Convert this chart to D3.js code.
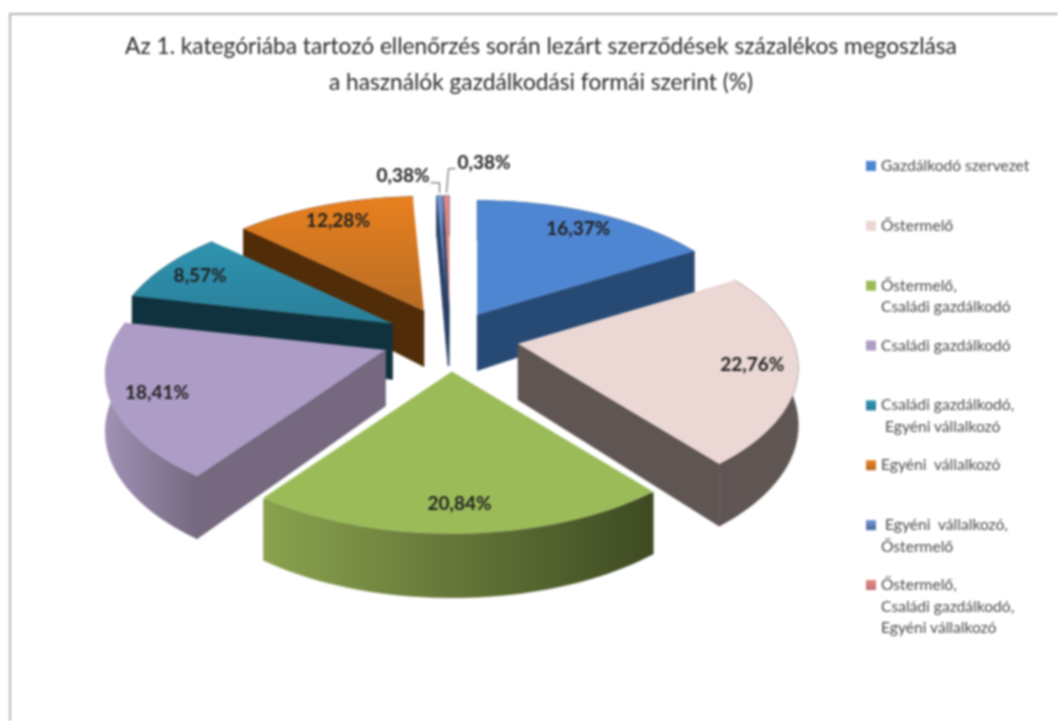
<!DOCTYPE html>
<html><head><meta charset="utf-8">
<script src="https://cdn.jsdelivr.net/npm/d3@7/dist/d3.min.js"></script>
<style>
html,body{margin:0;padding:0;background:#fff}
svg{display:block;filter:blur(0.8px)}
text{font-family:Lato,"Open Sans",sans-serif;white-space:pre}
</style></head><body>
<svg id="c" width="1058" height="721"></svg>
<script>
const titleLines = ["Az 1. kategóriába tartozó ellenőrzés során lezárt szerződések százalékos megoszlása",
                    "a használók gazdálkodási formái szerint (%)"];
const categories = ["Gazdálkodó szervezet","Őstermelő","Őstermelő, Családi gazdálkodó","Családi gazdálkodó",
  "Családi gazdálkodó, Egyéni vállalkozó","Egyéni vállalkozó","Egyéni vállalkozó, Őstermelő",
  "Őstermelő, Családi gazdálkodó, Egyéni vállalkozó"];
const legendLines = [["Gazdálkodó szervezet"],["Őstermelő"],["Őstermelő,","Családi gazdálkodó"],["Családi gazdálkodó"],
  ["Családi gazdálkodó,"," Egyéni vállalkozó"],["Egyéni  vállalkozó"],[" Egyéni  vállalkozó,","Őstermelő"],
  ["Őstermelő,","Családi gazdálkodó,","Egyéni vállalkozó"]];
const values = [16.37,22.76,20.84,18.41,8.57,12.28,0.38,0.38];
const explode = [0.2,0.25,0.25,0.25,0.235,0.225,0.21,0.21];
const topColors = ["#4f86d2","#ebd7d4","#9bbb59","#ad9cc5","#2f93b0","#e8801f","#7096d0","#e58a86"];
const topColorsEnd = ["#4f86d2","#ebd7d4","#9bbb59","#ad9cc5","#2a7f9a","#b86d25","#4a6a9a","#c07070"];
const wallLeft = ["#274a75","#5f5654","#8aa24e","#a092b6","#10323e","#512c08","#2a3f66","#2a3f66"];
const wallRight = ["#274a75","#5f5654","#3e4a22","#75687f","#10323e","#512c08","#2a3f66","#2a3f66"];
const drawOrder = [6,7,5,0,4,1,3,2];

// projection of the disc: near edge is bigger than the far edge
const cx=450, cy=338, A=276, B=134, K=0.174;
const depth = d3.scaleLinear().domain([-1,0,1]).range([64,56,40]);
const svg = d3.select("#c");
const defs = svg.append("defs");

// frame
svg.append("path").attr("d",d3.line()([[10,721],[10,14],[1058,14]]))
  .attr("fill","none").attr("stroke","#b0b0b0").attr("stroke-width",1.8);

svg.selectAll("text.title").data(titleLines).join("text").attr("class","title")
  .attr("x",541).attr("y",(d,i)=>54+i*36).attr("text-anchor","middle")
  .attr("font-size",22.7).attr("fill","#2a2a2a").text(d=>d);

const arcs = d3.pie().sort(null).value(d=>d)(values);
const line = d3.line();
function apexOf(i){
  const m=(arcs[i].startAngle+arcs[i].endAngle)/2;
  return [cx+explode[i]*A*Math.sin(m), cy-explode[i]*B*Math.cos(m)];
}
function proj(i,a,r,down){
  const X=r*Math.sin(a),Y=r*Math.cos(a),w=1+K*Y,ap=apexOf(i);
  const d=down?depth(Y):0;
  return [ap[0]+A*X/w, ap[1]-B*Y/w+d];
}
function arcPts(i,down){
  const a0=arcs[i].startAngle,a1=arcs[i].endAngle,n=Math.max(2,Math.ceil((a1-a0)/0.03));
  return d3.range(n+1).map(k=>proj(i,a0+(a1-a0)*k/n,1,down));
}
function grad(id,c0,c1,vert){
  const g=defs.append("linearGradient").attr("id",id).attr("x1",0).attr("y1",0)
    .attr("x2",vert?0:1).attr("y2",vert?1:0);
  g.append("stop").attr("offset",0).attr("stop-color",c0);
  g.append("stop").attr("offset",1).attr("stop-color",c1);
  return `url(#${id})`;
}
drawOrder.forEach((i,idx)=>{
  const a0=arcs[i].startAngle,a1=arcs[i].endAngle,g=svg.append("g");
  const wallFill=grad("w"+i,wallLeft[i],wallRight[i],false);
  const topFill=grad("t"+i,topColors[i],topColorsEnd[i],true);
  const topArc=arcPts(i,false),botArc=arcPts(i,true);
  const ap=apexOf(i),apB=proj(i,0,0,true);
  g.append("path").attr("d",line(topArc.concat(botArc.slice().reverse()))+"Z")
    .attr("fill",wallFill).attr("stroke",wallFill).attr("stroke-width",0.6);
  const side=(a)=>{
    const t=proj(i,a,1,false),b=proj(i,a,1,true);
    g.append("path").attr("d",line([ap,t,b,apB])+"Z").attr("fill",wallRight[i])
      .attr("stroke",wallRight[i]).attr("stroke-width",0.6);
  };
  if(Math.cos(a0-Math.PI/2)<-1e-6) side(a0);
  if(Math.cos(a1+Math.PI/2)<-1e-6) side(a1);
  if(idx===drawOrder.length-1){
    g.append("path").attr("d",line([topArc[0],ap,topArc[topArc.length-1]]))
     .attr("fill","none").attr("stroke","#fff").attr("stroke-width",4);
  }
  g.append("path").attr("d",line([ap].concat(topArc))+"Z").attr("fill",topFill);
});

// data labels
const fmt=v=>v.toFixed(2).replace(".",",")+"%";
const labelColor="#1f1f1f", labelSize=19;
arcs.forEach((d,i)=>{
  if(values[i]<1) return;
  const p=proj(i,(d.startAngle+d.endAngle)/2,0.84,false);
  svg.append("text").attr("x",p[0]).attr("y",p[1]+7).attr("text-anchor","middle")
    .attr("font-size",labelSize).attr("font-weight",700).attr("fill",labelColor).text(fmt(values[i]));
});
// small slices: outside labels with leader lines
const leaderSteps=[[[0,-10],[-9,0]],[[2,-24],[7,0]]];
[6,7].forEach((i,k)=>{
  const m=(arcs[i].startAngle+arcs[i].endAngle)/2,s=proj(i,m,1,false);
  const p0=[s[0],s[1]-3];
  const p1=[p0[0]+leaderSteps[k][0][0],p0[1]+leaderSteps[k][0][1]];
  const p2=[p1[0]+leaderSteps[k][1][0],p1[1]];
  svg.append("path").attr("d",line([p0,p1,p2])).attr("fill","none").attr("stroke","#555").attr("stroke-width",1);
  svg.append("text").attr("x",p2[0]+(k?2:-1)).attr("y",p2[1]+(k?0:-1)).attr("text-anchor",k?"start":"end")
    .attr("font-size",labelSize).attr("font-weight",700).attr("fill",labelColor).text(fmt(values[i]));
});

// legend
const legendY=d3.scalePoint().domain(d3.range(categories.length)).range([166,585]);
const lineH=21.5;
categories.forEach((c,i)=>{
  const y=legendY(i);
  svg.append("rect").attr("x",866).attr("y",y-5).attr("width",10).attr("height",10)
    .attr("fill",grad("l"+i,topColors[i],topColorsEnd[i],true));
  legendLines[i].forEach((t,j)=>{
    svg.append("text").attr("x",881).attr("y",y+5+j*lineH).attr("font-size",15.6).attr("fill","#4a4a4a").text(t);
  });
});
</script></body></html>
